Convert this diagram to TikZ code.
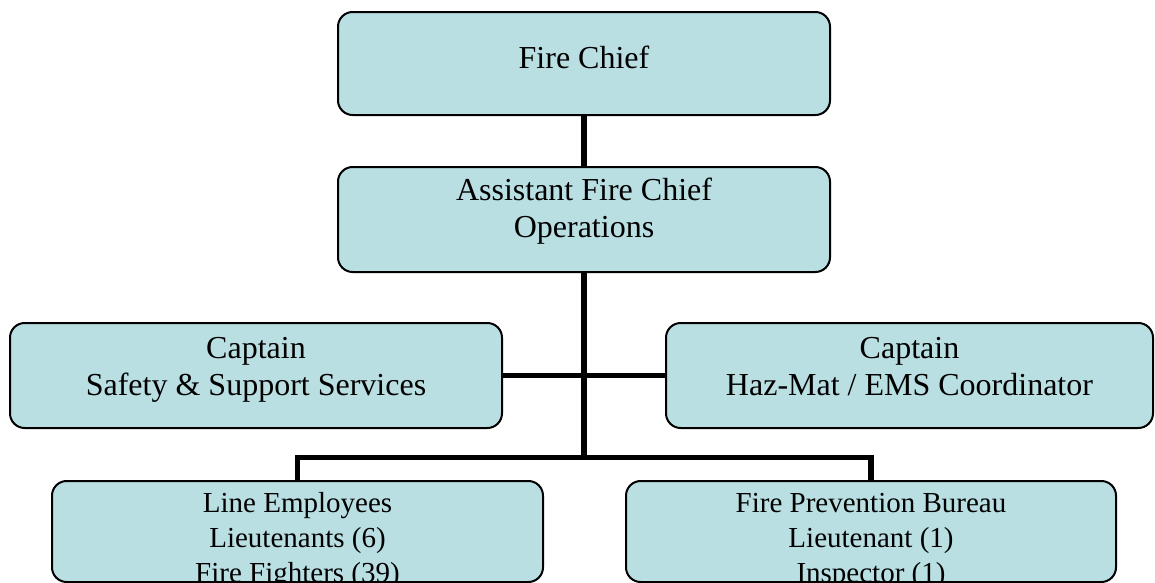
\documentclass[tikz,border=0pt]{standalone}
\usepackage{fontspec}
\setmainfont{Liberation Serif}
\definecolor{boxfill}{RGB}{185,223,227}
\begin{document}
\begin{tikzpicture}[x=0.75pt,y=-0.75pt,
  box/.style={draw=black, line width=1.5pt, fill=boxfill, rounded corners=11pt, inner sep=0pt},
  bigtxt/.style={font=\fontsize{24}{27.6}\selectfont, align=center, inner sep=0pt, anchor=base},
  smalltxt/.style={font=\fontsize{21.75}{26}\selectfont, align=center, inner sep=0pt, anchor=base},
  conn/.style={line width=4.2pt}]
\clip (0,0) rectangle (1155,582);
\useasboundingbox (0,0) rectangle (1155,582);
% boxes
\node[box, minimum width=369pt, minimum height=77.25pt] (chief) at (584,63.5) {};
\node[box, minimum width=369pt, minimum height=78.75pt] (asst) at (584,219.5) {};
\node[box, minimum width=369pt, minimum height=78.75pt] (captL) at (256,375.5) {};
\node[box, minimum width=365.25pt, minimum height=78.75pt] (captR) at (909.5,375.5) {};
\node[box, minimum width=368.25pt, minimum height=75.75pt] (lineE) at (297.5,531.5) {};
\node[box, minimum width=367.5pt, minimum height=75.75pt] (fpb) at (871,531.5) {};
% texts (base anchor = baseline of last line)
\node[bigtxt] (chiefT) at (584,68) {Fire Chief};
\node[bigtxt] (asstT) at (584,237) {Assistant Fire Chief\\Operations};
\node[bigtxt] (captLT) at (256,395) {Captain\\Safety \& Support Services};
\node[bigtxt] (captRT) at (909.5,395) {Captain\\Haz-Mat / EMS Coordinator};
\node[smalltxt] (lineET) at (297.5,582) {Line Employees\\Lieutenants (6)\\Fire Fighters (39)};
\node[smalltxt] (fpbT) at (871,582) {Fire Prevention Bureau\\Lieutenant (1)\\Inspector (1)};
% connectors
\coordinate (J) at (584,457.5);
\draw[conn] (chief.south) -- (asst.north);
\draw[conn] (asst.south) -- (J);
\draw[conn] (captL.east) -- (captR.west);
\draw[conn] (lineE.north) |- (J) -| (fpb.north);
\end{tikzpicture}
\end{document}
